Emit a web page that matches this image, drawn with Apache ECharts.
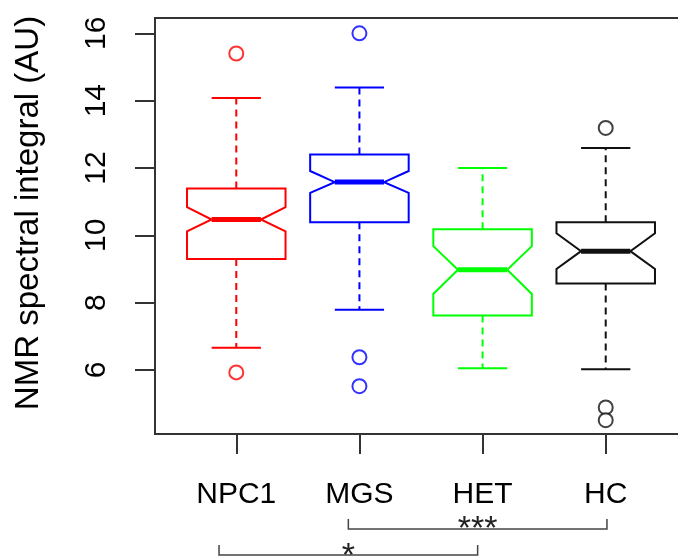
<!DOCTYPE html>
<html>
<head>
<meta charset="utf-8">
<script src="https://cdn.jsdelivr.net/npm/echarts@6/dist/echarts.min.js"></script>
<style>
  html, body { margin: 0; padding: 0; background: #fff; }
  #chart { width: 678px; height: 558px; }
</style>
</head>
<body>
<div id="chart"></div>
<script>
// groups and box statistics
const categories = ['NPC1', 'MGS', 'HET', 'HC'];
const lowerWhisker = [6.66, 7.79, 6.05, 6.02];
const q1 = [9.30, 10.39, 7.62, 8.57];
const notchLow = [10.12, 11.26, 8.26, 9.00];
const median = [10.47, 11.58, 8.98, 9.53];
const notchHigh = [10.84, 11.91, 9.68, 10.06];
const q3 = [11.39, 12.40, 10.18, 10.39];
const upperWhisker = [14.08, 14.39, 12.00, 12.59];

// outliers: group number (1-based) and value
const outlierGroup = [1, 1, 2, 2, 2, 4, 4, 4];
const outlierValue = [15.4, 5.93, 16.0, 6.38, 5.52, 13.19, 4.89, 4.51];

const yTicks = [6, 8, 10, 12, 14, 16];
const groupTicks = [1, 2, 3, 4];

// significance brackets: from, to (x units), label
const bracketFrom = [1.91, 0.86];
const bracketTo = [4.01, 2.96];
const bracketLabel = ['***', '*'];

const colors = ['#ff0000', '#0000ff', '#00ff00', '#111111'];

const boxData = categories.map((c, i) => [
    i + 1, lowerWhisker[i], q1[i], notchLow[i], median[i], notchHigh[i], q3[i], upperWhisker[i]
]);

const outlierData = outlierGroup.map((g, i) => ({
    value: [g, outlierValue[i]],
    itemStyle: { color: '#fff', borderColor: colors[g - 1], borderWidth: 2 }
}));

function renderBox(params, api) {
    const x = api.value(0);
    const lw = api.value(1), b1 = api.value(2), nl = api.value(3), md = api.value(4);
    const nh = api.value(5), b3 = api.value(6), uw = api.value(7);
    const color = colors[params.dataIndex];
    const half = 0.4, notch = 0.2, cap = 0.2;
    const p = (dx, y) => api.coord([x + dx, y]);
    const line = (a, b, extra) => ({
        type: 'line',
        shape: { x1: a[0], y1: a[1], x2: b[0], y2: b[1] },
        style: Object.assign({ stroke: color, lineWidth: 2 }, extra || {})
    });
    return {
        type: 'group',
        children: [
            line(p(0, b3), p(0, uw), { lineDash: [7, 5] }),
            line(p(0, b1), p(0, lw), { lineDash: [7, 5] }),
            line(p(-cap, uw), p(cap, uw)),
            line(p(-cap, lw), p(cap, lw)),
            {
                type: 'polygon',
                shape: {
                    points: [
                        p(-half, b3), p(half, b3), p(half, nh), p(notch, md), p(half, nl),
                        p(half, b1), p(-half, b1), p(-half, nl), p(-notch, md), p(-half, nh)
                    ]
                },
                style: { fill: 'none', stroke: color, lineWidth: 2 }
            },
            line(p(-notch, md), p(notch, md), { lineWidth: 5 })
        ]
    };
}

const chart = echarts.init(document.getElementById('chart'));

chart.setOption({
    animation: false,
    grid: {
        left: 155, top: 18, width: 532, height: 416,
        outerBoundsMode: 'none',
        show: true, borderColor: '#333', borderWidth: 2, backgroundColor: 'transparent'
    },
    xAxis: {
        type: 'value', min: 0.34, max: 4.66,
        axisLine: { show: true, lineStyle: { color: '#333', width: 2 } },
        axisTick: { show: true, length: 20, customValues: groupTicks, lineStyle: { color: '#333', width: 2 } },
        axisLabel: {
            customValues: groupTicks, margin: 46,
            formatter: v => categories[Math.round(v) - 1],
            color: '#000', fontSize: 30, fontFamily: 'Liberation Sans'
        },
        splitLine: { show: false }
    },
    yAxis: {
        type: 'value', min: 4.1, max: 16.454,
        name: 'NMR spectral integral (AU)', nameLocation: 'middle', nameGap: 110,
        nameTextStyle: { fontSize: 33, color: '#000', fontFamily: 'Liberation Sans', padding: [0, 0, 0, 26] },
        axisLine: { show: true, lineStyle: { color: '#333', width: 2 } },
        axisTick: { show: true, length: 20, customValues: yTicks, lineStyle: { color: '#333', width: 2 } },
        axisLabel: {
            customValues: yTicks, rotate: 90, margin: 43,
            color: '#000', fontSize: 30, fontFamily: 'Liberation Sans'
        },
        splitLine: { show: false }
    },
    series: [
        { type: 'custom', renderItem: renderBox, data: boxData, encode: { x: 0, y: [1, 7] }, z: 2 },
        { type: 'scatter', data: outlierData, symbol: 'circle', symbolSize: 14, z: 3 }
    ]
});

// significance brackets under the axis
const bracketY = [529, 555];
const labelY = [530, 557];
const graphics = [];
bracketLabel.forEach((lab, i) => {
    const xa = chart.convertToPixel({ gridIndex: 0 }, [bracketFrom[i], 10])[0];
    const xb = chart.convertToPixel({ gridIndex: 0 }, [bracketTo[i], 10])[0];
    const y = bracketY[i];
    graphics.push({
        type: 'polyline',
        shape: { points: [[xa, y - 10], [xa, y], [xb, y], [xb, y - 10]] },
        style: { fill: 'none', stroke: '#444', lineWidth: 1.5 }
    });
    graphics.push({
        type: 'text',
        style: {
            x: (xa + xb) / 2, y: labelY[i], text: lab,
            fontSize: 34, fontFamily: 'Liberation Sans', fill: '#222',
            align: 'center', verticalAlign: 'middle'
        }
    });
});
chart.setOption({ graphic: graphics });
</script>
</body>
</html>
